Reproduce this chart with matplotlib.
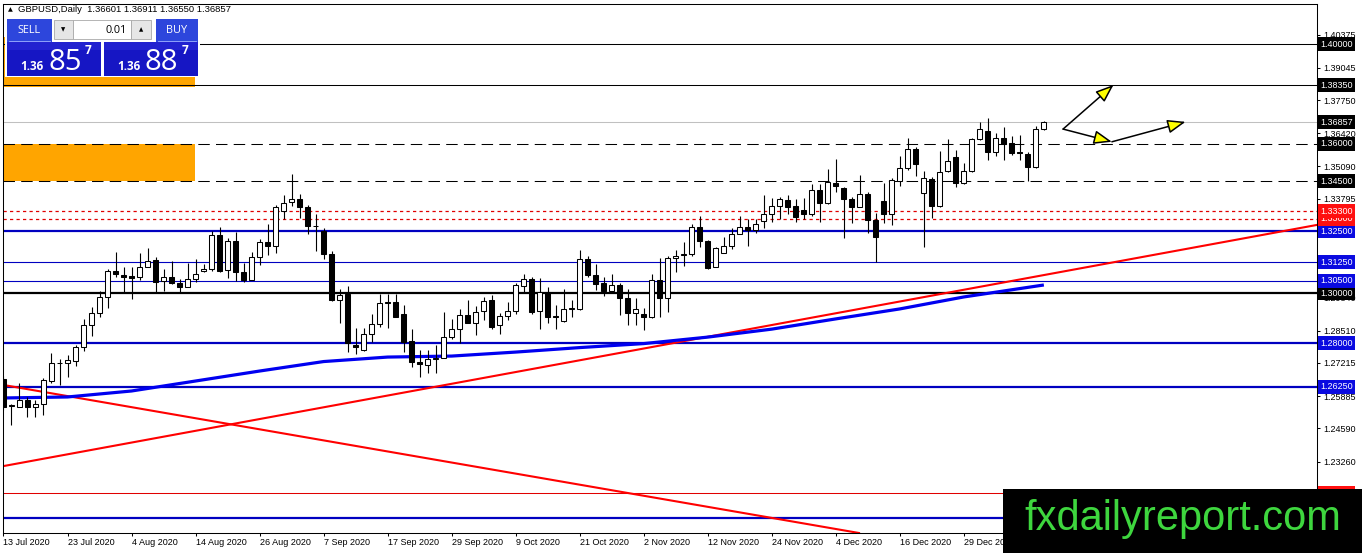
import numpy as np
import matplotlib
matplotlib.use("Agg")
import matplotlib.pyplot as plt
from matplotlib.patches import Rectangle, FancyArrowPatch

plt.rcParams['font.family'] = ['Liberation Sans', 'DejaVu Sans']

# GBPUSD daily candles, 13 Jul 2020 -> mid Jan 2021
opens = [1.2657, 1.2550, 1.2545, 1.2573, 1.2545, 1.2557, 1.2649, 1.2721, 1.2721, 1.2729,
         1.2785, 1.2873, 1.2921, 1.2986, 1.3090, 1.3074, 1.3070, 1.3066, 1.3106, 1.3134,
         1.3050, 1.3066, 1.3042, 1.3026, 1.3058, 1.3090, 1.3098, 1.3234, 1.3094, 1.3210,
         1.3086, 1.3054, 1.3146, 1.3206, 1.3190, 1.3331, 1.3367, 1.3379, 1.3347, 1.3270,
         1.3250, 1.3158, 1.2974, 1.2998, 1.2793, 1.2773, 1.2837, 1.2877, 1.2966, 1.2966,
         1.2918, 1.2809, 1.2725, 1.2713, 1.2737, 1.2741, 1.2825, 1.2857, 1.2914, 1.2882,
         1.2929, 1.2974, 1.2873, 1.2910, 1.2930, 1.3030, 1.3058, 1.2930, 1.3006, 1.2910,
         1.2890, 1.2937, 1.2937, 1.3138, 1.3074, 1.3042, 1.3010, 1.3034, 1.2982, 1.2922,
         1.2918, 1.2906, 1.3054, 1.2982, 1.3142, 1.3154, 1.3158, 1.3266, 1.3210, 1.3106,
         1.3162, 1.3190, 1.3238, 1.3266, 1.3254, 1.3290, 1.3318, 1.3351, 1.3375, 1.3351,
         1.3334, 1.3318, 1.3415, 1.3363, 1.3443, 1.3423, 1.3379, 1.3347, 1.3399, 1.3294,
         1.3371, 1.3318, 1.3451, 1.3503, 1.3579, 1.3403, 1.3459, 1.3351, 1.3491, 1.3547,
         1.3443, 1.3491, 1.3619, 1.3651, 1.3567, 1.3623, 1.3603, 1.3567, 1.3559, 1.3507,
         1.36601]
highs = [1.2669, 1.2557, 1.2641, 1.2585, 1.2573, 1.2661, 1.2761, 1.2737, 1.2753, 1.2793,
         1.2897, 1.2945, 1.3010, 1.3098, 1.3166, 1.3106, 1.3106, 1.3162, 1.3182, 1.3146,
         1.3098, 1.3130, 1.3058, 1.3122, 1.3138, 1.3118, 1.3250, 1.3266, 1.3222, 1.3246,
         1.3122, 1.3166, 1.3218, 1.3278, 1.3355, 1.3395, 1.3479, 1.3399, 1.3355, 1.3318,
         1.3262, 1.3170, 1.3018, 1.3030, 1.2861, 1.2861, 1.2918, 1.2998, 1.2998, 1.2998,
         1.2954, 1.2857, 1.2773, 1.2773, 1.2793, 1.2925, 1.2897, 1.2937, 1.2974, 1.2949,
         1.2986, 1.2994, 1.2921, 1.2966, 1.3042, 1.3078, 1.3066, 1.3062, 1.3026, 1.2954,
         1.3018, 1.2974, 1.3174, 1.3150, 1.3118, 1.3066, 1.3078, 1.3042, 1.3018, 1.2982,
         1.2942, 1.3078, 1.3142, 1.3150, 1.3174, 1.3206, 1.3278, 1.3310, 1.3214, 1.3186,
         1.3226, 1.3262, 1.3310, 1.3298, 1.3298, 1.3395, 1.3383, 1.3387, 1.3395, 1.3379,
         1.3383, 1.3439, 1.3439, 1.3499, 1.3539, 1.3427, 1.3387, 1.3475, 1.3407, 1.3322,
         1.3443, 1.3463, 1.3551, 1.3623, 1.3587, 1.3491, 1.3467, 1.3571, 1.3619, 1.3575,
         1.3523, 1.3623, 1.3687, 1.3703, 1.3643, 1.3667, 1.3631, 1.3635, 1.3567, 1.3671,
         1.36911]
lows = [1.2533, 1.2473, 1.2543, 1.2505, 1.2505, 1.2513, 1.2641, 1.2633, 1.2665, 1.2709,
        1.2769, 1.2829, 1.2905, 1.2941, 1.3066, 1.3002, 1.2978, 1.3054, 1.3106, 1.3002,
        1.3010, 1.3038, 1.3002, 1.3026, 1.3046, 1.3086, 1.3090, 1.3086, 1.3062, 1.3050,
        1.3046, 1.3054, 1.3114, 1.3154, 1.3162, 1.3298, 1.3351, 1.3302, 1.3238, 1.3170,
        1.3138, 1.2970, 1.2882, 1.2765, 1.2757, 1.2769, 1.2805, 1.2865, 1.2861, 1.2906,
        1.2765, 1.2705, 1.2665, 1.2681, 1.2681, 1.2741, 1.2817, 1.2801, 1.2882, 1.2833,
        1.2893, 1.2857, 1.2837, 1.2893, 1.2918, 1.3002, 1.2918, 1.2857, 1.2882, 1.2857,
        1.2886, 1.2906, 1.2933, 1.3066, 1.3014, 1.2990, 1.3006, 1.2914, 1.2873, 1.2873,
        1.2853, 1.2902, 1.2906, 1.2925, 1.3086, 1.3110, 1.3150, 1.3186, 1.3098, 1.3106,
        1.3162, 1.3178, 1.3238, 1.3190, 1.3242, 1.3262, 1.3286, 1.3298, 1.3318, 1.3286,
        1.3298, 1.3310, 1.3286, 1.3359, 1.3407, 1.3222, 1.3282, 1.3347, 1.3242, 1.3126,
        1.3282, 1.3274, 1.3431, 1.3495, 1.3471, 1.3186, 1.3302, 1.3347, 1.3487, 1.3427,
        1.3439, 1.3487, 1.3615, 1.3535, 1.3551, 1.3535, 1.3555, 1.3535, 1.3451, 1.3503,
        1.36550]
closes = [1.2545, 1.2554, 1.2573, 1.2545, 1.2557, 1.2653, 1.2721, 1.2723, 1.2733, 1.2785,
          1.2873, 1.2921, 1.2986, 1.3090, 1.3078, 1.3066, 1.3062, 1.3106, 1.3130, 1.3046,
          1.3066, 1.3042, 1.3026, 1.3058, 1.3078, 1.3098, 1.3234, 1.3090, 1.3210, 1.3086,
          1.3054, 1.3146, 1.3206, 1.3190, 1.3347, 1.3363, 1.3379, 1.3347, 1.3270, 1.3272,
          1.3158, 1.2974, 1.2994, 1.2801, 1.2785, 1.2837, 1.2877, 1.2962, 1.2962, 1.2906,
          1.2805, 1.2725, 1.2717, 1.2737, 1.2741, 1.2825, 1.2857, 1.2914, 1.2882, 1.2925,
          1.2970, 1.2865, 1.2910, 1.2930, 1.3034, 1.3058, 1.2926, 1.3006, 1.2906, 1.2906,
          1.2937, 1.2941, 1.3138, 1.3074, 1.3038, 1.3010, 1.3034, 1.2982, 1.2922, 1.2937,
          1.2906, 1.3054, 1.2982, 1.3142, 1.3150, 1.3158, 1.3266, 1.3210, 1.3102, 1.3182,
          1.3190, 1.3238, 1.3266, 1.3254, 1.3278, 1.3318, 1.3351, 1.3379, 1.3347, 1.3306,
          1.3318, 1.3415, 1.3363, 1.3447, 1.3431, 1.3379, 1.3347, 1.3399, 1.3294, 1.3226,
          1.3318, 1.3455, 1.3503, 1.3579, 1.3519, 1.3463, 1.3351, 1.3487, 1.3531, 1.3443,
          1.3491, 1.3619, 1.3659, 1.3567, 1.3623, 1.3599, 1.3563, 1.3563, 1.3507, 1.3659,
          1.36857]

# moving average, sampled every 8 bars (plus last bar)
ma_bars = [0, 8, 16, 24, 32, 40, 48, 56, 64, 72, 80, 88, 96, 104, 112, 120, 130]
ma_vals = [1.2581, 1.2585, 1.2609, 1.2649, 1.2689, 1.2727, 1.2745, 1.2749, 1.2765,
           1.2783, 1.2799, 1.2825, 1.2857, 1.2898, 1.2938, 1.2986, 1.3034]

date_bars = list(range(0, 121, 8))
date_labels = ['13 Jul 2020', '23 Jul 2020', '4 Aug 2020', '14 Aug 2020', '26 Aug 2020',
               '7 Sep 2020', '17 Sep 2020', '29 Sep 2020', '9 Oct 2020', '21 Oct 2020',
               '2 Nov 2020', '12 Nov 2020', '24 Nov 2020', '4 Dec 2020', '16 Dec 2020',
               '29 Dec 2020']

# price scale labels that show on the right (others sit under level boxes)
price_ticks = [1.40375, 1.39045, 1.37750, 1.36420, 1.35090, 1.33795, 1.31170,
               1.29840, 1.28510, 1.27215, 1.25885, 1.24590, 1.23260]

# horizontal levels drawn on the chart
levels = [1.2100, 1.2200, 1.2625, 1.2800, 1.3000, 1.3050, 1.3125, 1.3250,
          1.3300, 1.3330, 1.3450, 1.3600, 1.3835, 1.4000]
level_kind = ['blue_thick', 'red', 'blue_thick', 'blue_thick', 'black_thick', 'blue', 'blue',
              'blue_thick', 'red_dot', 'red_dot', 'black_dash', 'black_dash', 'black', 'black']
bid = 1.36857

# trend lines (two anchor points each, bar index / price)
trend_up = [(0, 1.2308), (164, 1.3274)]
trend_down = [(0, 1.2633), (100, 1.2078)]

# orange zones: (bar from, bar to, price low, price high)
zones = [(-1, 23.9, 1.3450, 1.3600), (-1, 23.9, 1.3826, 1.4030)]

# yellow arrows drawn on the chart
arrows = [((132.4, 1.3659), (138.7, 1.3836)),
          ((132.4, 1.3659), (138.5, 1.3608)),
          ((138.5, 1.3608), (147.7, 1.3688))]

STYLE = {
    'black': dict(color='black', lw=0.75, ls='-'),
    'black_thick': dict(color='black', lw=1.6, ls='-'),
    'black_dash': dict(color='black', lw=0.75, ls=(0, (11, 6))),
    'red_dot': dict(color='#e00000', lw=0.9, ls=(0, (2.6, 2.6))),
    'red': dict(color='#e00000', lw=0.75, ls='-'),
    'blue': dict(color='#0000c0', lw=0.8, ls='-'),
    'blue_thick': dict(color='#0000c0', lw=1.6, ls='-'),
}
LABEL_BG = {'black': 'black', 'black_thick': 'black', 'black_dash': 'black',
            'red_dot': '#ff1010', 'red': '#ff1010', 'blue': '#0a0ae0', 'blue_thick': '#0a0ae0'}

W, H = 1362, 553
fig = plt.figure(figsize=(W / 100, H / 100), dpi=100)
fig.patch.set_facecolor('white')
ax = fig.add_axes([3 / W, 20 / H, (1317 - 3) / W, (533 - 4) / H])
ax.set_xlim(-0.06, 164.13)
ax.set_ylim(1.20397, 1.41604)
for s in ax.spines.values():
    s.set_linewidth(0.75)
    s.set_color('black')

for b0, b1, p0, p1 in zones:
    ax.add_patch(Rectangle((b0, p0), b1 - b0, p1 - p0, fc='#ffa500', ec='none', zorder=0.5))

for lv, kind in zip(levels, level_kind):
    ax.axhline(lv, zorder=1, **STYLE[kind])
ax.axhline(bid, color='#c0c0c0', lw=0.75, zorder=1)

ax.axline(trend_up[0], trend_up[1], color='#ff0000', lw=1.5, zorder=2)
ax.axline(trend_down[0], trend_down[1], color='#ff0000', lw=1.5, zorder=2)
ax.plot(ma_bars, ma_vals, color='#0000f0', lw=2.3, zorder=2.2, solid_capstyle='butt')

# candles
o = np.array(opens); h = np.array(highs); l = np.array(lows); c = np.array(closes)
x = np.arange(len(o))
up = c >= o
ax.vlines(x, l, h, color='black', lw=0.8, zorder=3)
body_lo = np.minimum(o, c)
body_h = np.maximum(np.abs(c - o), 0.00012)
ax.bar(x[up], body_h[up], bottom=body_lo[up], width=0.6, color='white',
       edgecolor='black', linewidth=0.75, zorder=3.5)
ax.bar(x[~up], body_h[~up], bottom=body_lo[~up], width=0.6, color='black',
       edgecolor='black', linewidth=0.75, zorder=3.5)

for a, b in arrows:
    ax.add_patch(FancyArrowPatch(a, b, arrowstyle='-|>,head_length=1.1,head_width=0.42',
                                 mutation_scale=10, fc='#ffff00', ec='black', lw=1.1,
                                 shrinkA=0, shrinkB=0, zorder=5))

# axes ticks
ax.yaxis.tick_right()
ax.set_yticks(price_ticks)
ax.set_yticklabels(['%.5f' % v for v in price_ticks])
ax.tick_params(axis='y', length=2.5, width=0.75, pad=2.2, labelsize=6.5)
ax.set_xticks(date_bars)
ax.set_xticklabels(date_labels)
for lab in ax.get_xticklabels():
    lab.set_horizontalalignment('left')
ax.tick_params(axis='x', length=2.5, width=0.75, pad=1.2, labelsize=6.5)

# coloured price labels on the right
ytr = ax.get_yaxis_transform()
for lv, kind in zip(levels, level_kind):
    ax.text(1 + 3.3 / 1314, lv, '%.5f' % lv, transform=ytr, ha='left', va='center',
            color='white', fontsize=6.5, clip_on=False, zorder=6,
            bbox=dict(boxstyle='square,pad=0.28', fc=LABEL_BG[kind], ec='none'))
ax.text(1 + 3.3 / 1314, bid, '%.5f' % bid, transform=ytr, ha='left', va='center',
        color='white', fontsize=6.5, clip_on=False, zorder=6,
        bbox=dict(boxstyle='square,pad=0.28', fc='black', ec='none'))

# overlay in pixel units: header, trading panel, watermark
ov = fig.add_axes([0, 0, 1, 1], zorder=10)
ov.set_xlim(0, W)
ov.set_ylim(H, 0)
ov.axis('off')
ov.patch.set_visible(False)


def box(x0, y0, x1, y1, fc, ec='none', lw=0):
    ov.add_patch(Rectangle((x0, y0), x1 - x0, y1 - y0, fc=fc, ec=ec, lw=lw))


ov.text(8, 10, '\u25b2', fontsize=4.5, va='center', ha='left', family='DejaVu Sans')
ov.text(18, 10, 'GBPUSD,Daily  1.36601 1.36911 1.36550 1.36857', fontsize=6.8,
        va='center', ha='left')

panel_font = ['Open Sans', 'DejaVu Sans']
box(4.5, 18, 200, 77, 'white')
box(7, 19, 52, 41.5, '#2d46dc')
box(156, 19, 198, 41.5, '#2d46dc')
ov.plot([9, 50], [41, 41], color='#9fb0ff', lw=0.6)
ov.plot([158, 196], [41, 41], color='#9fb0ff', lw=0.6)
ov.text(29.5, 30.5, 'SELL', color='white', fontsize=7.8, ha='center', va='center', family=panel_font)
ov.text(177, 30.5, 'BUY', color='white', fontsize=7.8, ha='center', va='center', family=panel_font)
box(54, 20, 73, 39, '#e6e6e6', ec='#a8a8a8', lw=0.6)
box(73, 20, 131, 39, 'white', ec='#a8a8a8', lw=0.6)
box(131, 20, 151, 39, '#e6e6e6', ec='#a8a8a8', lw=0.6)
ov.text(63.5, 30, '\u25bc', fontsize=4, ha='center', va='center', family='DejaVu Sans')
ov.text(141, 30, '\u25b2', fontsize=4, ha='center', va='center', family='DejaVu Sans')
ov.text(127, 30.5, '0.01', fontsize=7.8, ha='right', va='center', family=panel_font)

for x0, big in [(7, '85'), (104, '88')]:
    box(x0, 42, x0 + 94, 76, '#1616c4')
    box(x0, 42, x0 + 94, 50, '#2222d0')
    ov.text(x0 + 13, 70, '1.36', color='white', fontsize=8.5, weight='bold',
            ha='left', va='baseline', family=panel_font)
    ov.text(x0 + 41, 70, big, color='white', fontsize=21, ha='left', va='baseline',
            family=panel_font)
    ov.text(x0 + 78, 53.5, '7', color='white', fontsize=8.5, weight='bold',
            ha='left', va='baseline', family=panel_font)

box(1003, 489, 1362, 553, 'black')
ov.text(1183, 519, 'fxdailyreport.com', color='#3ed63e', fontsize=30, ha='center',
        va='center', family='Liberation Sans')

fig.savefig('out.png', dpi=100)
